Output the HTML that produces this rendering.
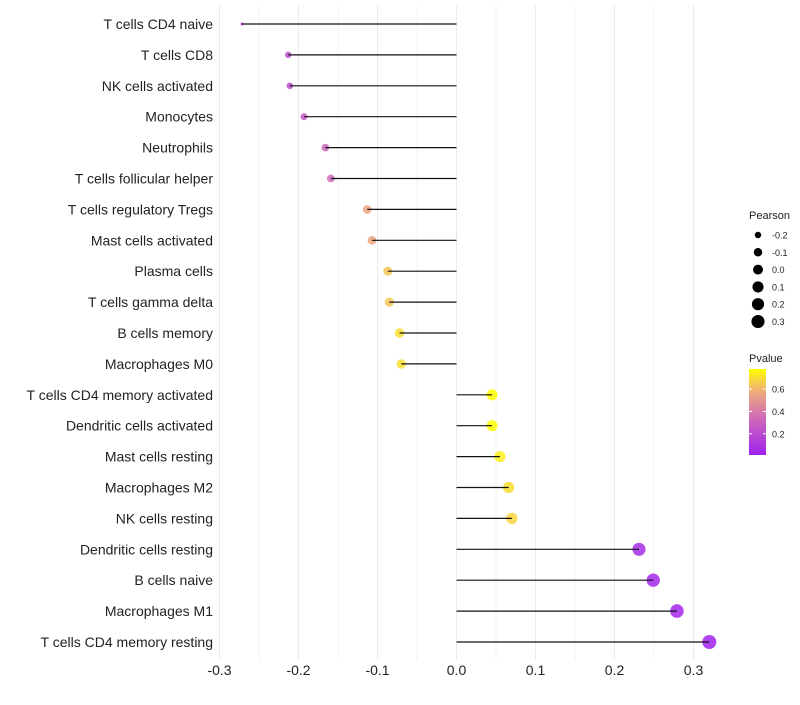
<!DOCTYPE html>
<html><head><meta charset="utf-8"><style>
body{margin:0;background:#fff;font-family:"Liberation Sans",sans-serif}
</style></head><body>
<svg id="chart" width="800" height="700" xmlns="http://www.w3.org/2000/svg" font-family="Liberation Sans, sans-serif">
<g id="grid"></g><g id="marks"></g><g id="labels"></g><g id="legend"></g>
</svg>
<script>
const categories=["T cells CD4 naive","T cells CD8","NK cells activated","Monocytes","Neutrophils","T cells follicular helper","T cells regulatory  Tregs","Mast cells activated","Plasma cells","T cells gamma delta","B cells memory","Macrophages M0","T cells CD4 memory activated","Dendritic cells activated","Mast cells resting","Macrophages M2","NK cells resting","Dendritic cells resting","B cells naive","Macrophages M1","T cells CD4 memory resting"];
const pearson=[-0.2715,-0.213,-0.211,-0.193,-0.166,-0.159,-0.113,-0.107,-0.087,-0.085,-0.072,-0.070,0.045,0.045,0.055,0.066,0.070,0.231,0.249,0.279,0.320];
const pvalue=[0.10,0.20,0.20,0.25,0.32,0.34,0.55,0.55,0.64,0.64,0.70,0.70,0.78,0.78,0.74,0.70,0.68,0.06,0.05,0.04,0.02];
const xTicks=[-0.3,-0.2,-0.1,0.0,0.1,0.2,0.3];
const sizeLegend=[-0.2,-0.1,0.0,0.1,0.2,0.3];
const pLegend=[0.2,0.4,0.6];
const NS="http://www.w3.org/2000/svg";
const x=v=>456.5+v*790;
const y=i=>24+i*30.9;
const r=v=>{const t=Math.max(0,(v+0.2715)/0.5915);return 1.5+5.5*Math.sqrt(t);};
const pMin=0.01,pMax=0.78;
function lerp(a,b,t){return a.map((c,i)=>Math.round(c+(b[i]-c)*t));}
function col(p){let t=Math.max(0,Math.min(1,(p-pMin)/(pMax-pMin)));
 const s=[[160,32,240],[210,110,180],[240,175,120],[255,255,0]];const pos=[0,0.45,0.75,1];
 for(let k=0;k<3;k++){if(t<=pos[k+1]){const c=lerp(s[k],s[k+1],(t-pos[k])/(pos[k+1]-pos[k]));return `rgb(${c})`;}}return 'rgb(255,255,0)';}
function el(tag,attrs,parent){const e=document.createElementNS(NS,tag);for(const k in attrs)e.setAttribute(k,attrs[k]);parent.appendChild(e);return e;}
const grid=document.getElementById('grid'),marks=document.getElementById('marks'),labels=document.getElementById('labels'),legend=document.getElementById('legend');
for(let v=-0.3;v<=0.33;v+=0.05){const g=el('line',{x1:x(v),x2:x(v),y1:5,y2:660,stroke:'#ebebeb','stroke-width':Math.abs(Math.round(v*100))%10===0?1:0.6},grid);

}
xTicks.forEach(v=>{const t=el('text',{x:x(v),y:675,'text-anchor':'middle','font-size':14,fill:'#222'},labels);t.textContent=v.toFixed(1);

});
categories.forEach((c,i)=>{
 const t=el('text',{x:213,y:y(i)+5,'text-anchor':'end','font-size':14,fill:'#222'},labels);t.textContent=c;
 
 
 const pt=el('circle',{cx:x(pearson[i]),cy:y(i),r:r(pearson[i]),fill:col(pvalue[i]),'fill-opacity':0.85},marks);
 
 
 const ln=el('line',{x1:x(0),x2:x(pearson[i]),y1:y(i),y2:y(i),stroke:'#111','stroke-width':1.2},marks);
 
 
});
let lt=el('text',{x:749,y:219,'font-size':11,fill:'#222'},legend);lt.textContent='Pearson';


sizeLegend.forEach((v,i)=>{const cy=235+i*17.3;
 const c=el('circle',{cx:758,cy:cy,r:r(v)*0.95,fill:'#000'},legend);
 
 
 const t=el('text',{x:772,y:cy+3.5,'font-size':9,fill:'#222'},legend);t.textContent=v.toFixed(1);
 
 });
lt=el('text',{x:749,y:362,'font-size':11,fill:'#222'},legend);lt.textContent='Pvalue';


const defs=el('defs',{},legend);const gr=el('linearGradient',{id:'pg',x1:0,y1:1,x2:0,y2:0},defs);
for(let k=0;k<=10;k++){el('stop',{offset:k/10,'stop-color':col(pMin+(pMax-pMin)*k/10)},gr);}
const bar=el('rect',{x:749,y:369,width:17,height:86,fill:'url(#pg)'},legend);


const py=p=>455-(p-pMin)/(pMax-pMin)*86;
pLegend.forEach(p=>{el('line',{x1:749,x2:752,y1:py(p),y2:py(p),stroke:'#fff'},legend);el('line',{x1:763,x2:766,y1:py(p),y2:py(p),stroke:'#fff'},legend);
 const t=el('text',{x:772,y:py(p)+3.5,'font-size':9,fill:'#222'},legend);t.textContent=p.toFixed(1);
 
 });
</script>
</body></html>
